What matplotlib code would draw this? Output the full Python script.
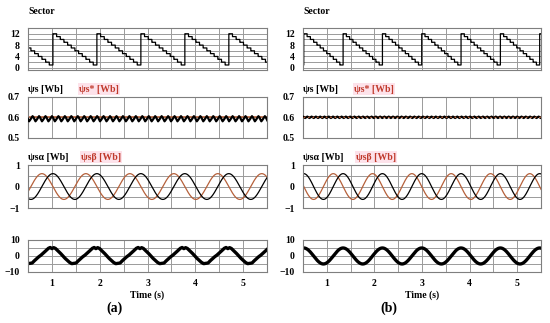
import numpy as np
import matplotlib
matplotlib.use('Agg')
import matplotlib.pyplot as plt

# ---------------- values ----------------
t_start, t_end = 0.5, 5.5
x_ticks = [1, 2, 3, 4, 5]

# electrical period and time of a sector jump (1 -> 12)
period_a = 0.92
period_b = 0.826
jump_a = 1.02
jump_b = 0.515
sector_max = 12

psi_ref = 0.6           # flux reference [Wb]
flux_amp = 0.6          # amplitude of alpha/beta flux [Wb]
ia_amp_b = 5.0          # current amplitude, case (b) [A]
ia_peak_a = 1.0         # time of a current peak, case (a)

# flux-magnitude ripple: one ripple cycle (fraction of cycle, value)
psi_rip_a_period = 0.135
psi_rip_a_frac = [0.0, 0.15, 0.45, 0.6, 1.0]
psi_rip_a_val = [0.606, 0.600, 0.581, 0.587, 0.606]
psi_rip_b_period = 0.09
psi_rip_b_frac = [0.0, 0.5]
psi_rip_b_val = [0.604, 0.597]

# phase current (a): one electrical period relative to the peak
ia_a_frac = [-0.50, -0.45, -0.40, -0.30, -0.25, -0.15, -0.08, -0.04, 0.0,
             0.04, 0.08, 0.20, 0.30, 0.40, 0.45]
ia_a_val = [-4.6, -4.4, -3.0, -0.5, 0.5, 3.0, 4.8, 5.3, 4.6,
            5.2, 4.7, 1.5, -1.5, -4.0, -4.8]

# ---------------- style ----------------
plt.rcParams['font.family'] = ['Liberation Serif', 'DejaVu Serif']
plt.rcParams['font.weight'] = 'bold'
RED = '#b5603a'
RED_TXT = '#c0392b'
PINK = '#fde2ea'
GRID = '#9a9a9a'
FRAME = '#7f7f7f'

fig = plt.figure(figsize=(5.5, 3.23), dpi=100)

cols = [(0.051, 0.4345), (0.551, 0.4327)]
rows = {
    'sector': (0.783, 0.130),
    'psi': (0.573, 0.127),
    'flux': (0.356, 0.133),
    'ia': (0.158, 0.099),
}


def style(ax, ylim, yticks, ygrid, ylabels):
    ax.set_xlim(t_start, t_end)
    ax.set_ylim(*ylim)
    ax.set_yticks(yticks)
    ax.set_yticklabels(ylabels)
    ax.set_yticks(ygrid, minor=True)
    ax.set_xticks(np.arange(1, 5.51, 1))
    ax.set_xticks(np.arange(0.5, 5.51, 0.5), minor=True)
    ax.grid(True, which='both', color=GRID, lw=0.7)
    ax.tick_params(which='both', length=0, labelsize=7, pad=6)
    ax.set_xticklabels([])
    for s in ax.spines.values():
        s.set_color(FRAME)
        s.set_linewidth(0.8)
    ax.set_axisbelow(True)


def tiled(t0, period, fracs, vals):
    k0 = int(np.floor((t_start - t0) / period)) - 1
    k1 = int(np.ceil((t_end - t0) / period)) + 1
    tt, vv = [], []
    for k in range(k0, k1):
        for f, v in zip(fracs, vals):
            tt.append(t0 + (k + f) * period)
            vv.append(v)
    return np.array(tt), np.array(vv)


t = np.linspace(t_start, t_end, 4000)

for ci, (case, period, jump) in enumerate([('a', period_a, jump_a), ('b', period_b, jump_b)]):
    x0, w = cols[ci]
    # --- sector ---
    ax = fig.add_axes([x0, rows['sector'][0], w, rows['sector'][1]])
    sec = sector_max - np.floor(((t - jump) % period) / (period / sector_max))
    ax.plot(t, sec, color='black', lw=0.9, drawstyle='steps-post')
    style(ax, (-0.8, 14), [0, 4, 8, 12], [0, 2, 4, 6, 8, 10, 12], ['0', '4', '8', '12'])
    fig.text(x0, 1 - 12 / 323, 'Sector', fontsize=7, fontweight='bold', va='center')

    # --- flux magnitude ---
    ax = fig.add_axes([x0, rows['psi'][0], w, rows['psi'][1]])
    ax.axhline(psi_ref, color=RED, lw=1.2, zorder=2)
    if case == 'a':
        tt, vv = tiled(1.0, psi_rip_a_period, psi_rip_a_frac, psi_rip_a_val)
        ax.plot(tt, vv, color='black', lw=1.6, zorder=3)
    else:
        tt, vv = tiled(0.5, psi_rip_b_period, psi_rip_b_frac, psi_rip_b_val)
        ax.plot(tt, vv, color='black', lw=1.6, zorder=3)
        ax.axhline(psi_ref, color=RED, lw=0.8, zorder=4, ls=(0, (1.5, 2.5)))
    style(ax, (0.5, 0.7), [0.5, 0.6, 0.7], [], ['0.5', '0.6', '0.7'])
    ytxt = 1 - 89 / 323
    fig.text(x0, ytxt, 'ψs [Wb]', fontsize=7, fontweight='bold', va='center')
    fig.text(x0 + 0.092, ytxt, 'ψs* [Wb]', fontsize=7, fontweight='bold', va='center',
             color=RED_TXT, bbox=dict(facecolor=PINK, edgecolor='none', pad=0.8))

    # --- alpha/beta flux ---
    ax = fig.add_axes([x0, rows['flux'][0], w, rows['flux'][1]])
    w_el = 2 * np.pi / period
    alpha = flux_amp * np.cos(w_el * (t - jump))
    beta = -flux_amp * np.sin(w_el * (t - jump))
    ax.plot(t, beta, color=RED, lw=0.9)
    ax.plot(t, alpha, color='black', lw=0.9)
    style(ax, (-1, 1), [-1, 0, 1], [-0.5, 0.5], ['−1', '0', '1'])
    ytxt = 1 - 157 / 323
    fig.text(x0, ytxt, 'ψsα [Wb]', fontsize=7, fontweight='bold', va='center')
    fig.text(x0 + 0.096, ytxt, 'ψsβ [Wb]', fontsize=7, fontweight='bold', va='center',
             color=RED_TXT, bbox=dict(facecolor=PINK, edgecolor='none', pad=0.8))

    # --- phase current ---
    ax = fig.add_axes([x0, rows['ia'][0], w, rows['ia'][1]])
    if case == 'a':
        tt, vv = tiled(ia_peak_a, period, ia_a_frac, ia_a_val)
        ax.plot(tt, vv, color='black', lw=2.4)
    else:
        ax.plot(t, ia_amp_b * np.cos(w_el * (t - jump - 0.0)), color='black', lw=2.4)
    style(ax, (-10, 10), [-10, 0, 10], [-5, 5], ['−10', '0', '10'])
    ax.set_xticklabels([str(v) for v in x_ticks])
    ax.tick_params(axis='x', pad=5)
    ax.set_xlabel('Time (s)', fontsize=7, fontweight='bold', labelpad=2)
    fig.text(x0 + w / 2 - 0.06, 1 - 308 / 323, '(%s)' % case, fontsize=10,
             ha='center', va='center', fontweight='bold')

fig.savefig('out.png', dpi=100)
